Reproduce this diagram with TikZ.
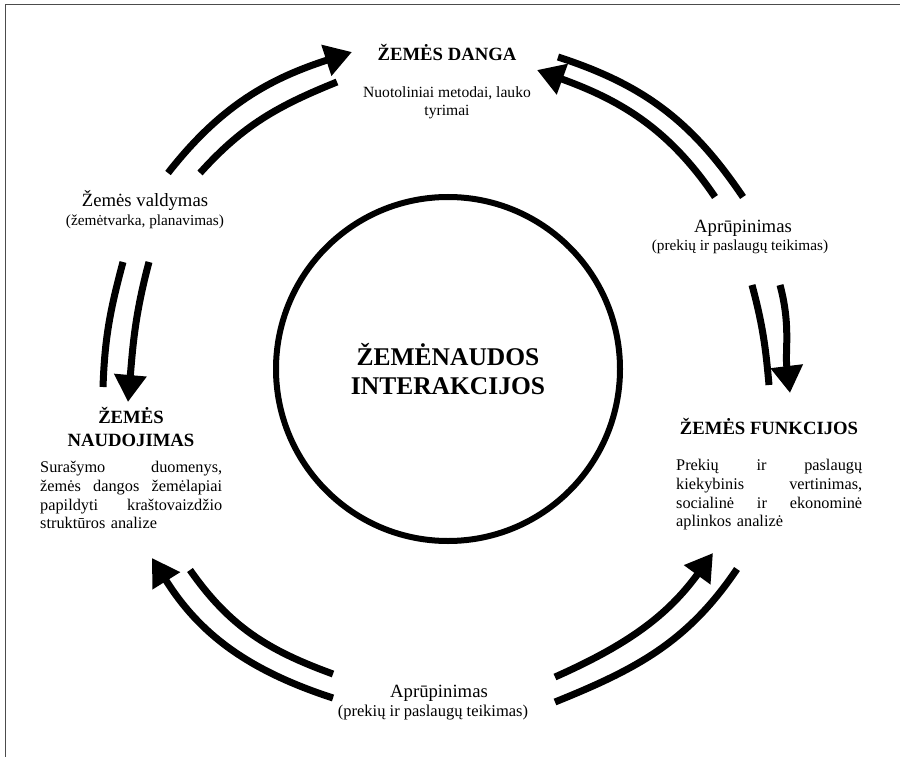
\documentclass[tikz,border=0pt]{standalone}
\usepackage{fontspec}
\setmainfont{Liberation Serif}
\usetikzlibrary{arrows.meta}
\begin{document}
\begin{tikzpicture}[x=1pt,y=1pt,
  frame/.style={draw=black!70, line width=1.6pt},
  ring/.style={circle, draw, line width=6pt, inner sep=0pt},
  flow/.style={line width=7pt},
  flowhead/.style={flow, -{Triangle[length=27pt,width=31pt]}},
  head/.style={font=\fontsize{18.7}{23}\selectfont\bfseries, inner sep=0pt, anchor=base},
  lbl/.style={font=\fontsize{18.7}{22}\selectfont, inner sep=0pt, anchor=base},
  sub/.style={font=\fontsize{15.3}{18}\selectfont, inner sep=0pt, anchor=base},
  body/.style={font=\fontsize{15.6}{17.5}\selectfont, inner sep=0pt, align=center},
  para/.style={font=\fontsize{16.3}{18.8}\selectfont, inner sep=0pt, align=left, anchor=north west},
  title/.style={font=\fontsize{25.5}{29}\selectfont\bfseries, align=center}
]
\useasboundingbox (0,0) rectangle (900,-757);
\fill[white] (0,0) rectangle (900,-757);

% page frame (top and left rules)
\coordinate (fTL) at (5.5,-4.5);
\coordinate (fTR) at (900,-4.5);
\coordinate (fBL) at (5.5,-757);
\draw[frame] (fTR) -- (fTL) -- (fBL);

% central ring
\node[ring, minimum size=344pt, title] (core) at (448,-369) {ŽEMĖNAUDOS\\INTERAKCIJOS};

% four stations around the ring
\node[head] (danga) at (447,-61) {ŽEMĖS DANGA};
\node[body] (dangatxt) at (447,-103) {Nuotoliniai metodai, lauko\\tyrimai};

\node[lbl] (valdymas) at (145,-207) {Žemės valdymas};
\node[sub] (valdymassub) at (145,-225) {(žemėtvarka, planavimas)};

\node[lbl] (aprR) at (743,-233) {Aprūpinimas};
\node[sub] (aprRsub) at (740,-250) {(prekių ir paslaugų teikimas)};

\node[head, align=center, anchor=center] (naud) at (131,-427) {ŽEMĖS\\NAUDOJIMAS};
\node[para, text width=182pt] (naudtxt) at (40,-461)
  {Surašymo\hfill duomenys,\\
   žemės\hfill dangos\hfill žemėlapiai\\
   papildyti\hfill kraštovaizdžio\\
   struktūros analize};

\node[head] (funk) at (769,-434) {ŽEMĖS FUNKCIJOS};
\node[para, text width=186pt] (funktxt) at (676,-459)
  {Prekių\hfill ir\hfill paslaugų\\
   kiekybinis\hfill vertinimas,\\
   socialinė\hfill ir\hfill ekonominė\\
   aplinkos analizė};

\node[lbl] (aprB) at (439,-697) {Aprūpinimas};
\node[sub, font=\fontsize{16.5}{19}\selectfont] (aprBsub) at (433,-716) {(prekių ir paslaugų teikimas)};

% curved double arrows
\coordinate (tlA0) at (168,-173); \coordinate (tlA1) at (352,-52);
\coordinate (tlB0) at (200,-173); \coordinate (tlB1) at (337,-82);
\draw[flowhead] (tlA0) to[out=52,in=198] (tlA1);
\draw[flow] (tlB0) to[out=48,in=202] (tlB1);

\coordinate (trA0) at (743,-197); \coordinate (trA1) at (558,-57);
\coordinate (trB0) at (715,-197); \coordinate (trB1) at (537,-70);
\draw[flow] (trA0) to[out=124,in=-18] (trA1);
\draw[flowhead] (trB0) to[out=124,in=-20] (trB1);

\coordinate (rA0) at (752,-285); \coordinate (rA1) at (769,-385);
\coordinate (rB0) at (780,-285); \coordinate (rB1) at (790,-393);
\draw[flow] (rA0) to[out=-75,in=95] (rA1);
\draw[flowhead] (rB0) to[out=-75,in=97] (rB1);

\coordinate (lA0) at (123,-262); \coordinate (lA1) at (103,-387);
\coordinate (lB0) at (149,-262); \coordinate (lB1) at (128,-402);
\draw[flow] (lA0) to[out=-105,in=88] (lA1);
\draw[flowhead] (lB0) to[out=-105,in=85] (lB1);

\coordinate (blA0) at (333,-698); \coordinate (blA1) at (152,-558);
\coordinate (blB0) at (333,-674); \coordinate (blB1) at (190,-570);
\draw[flowhead] (blA0) to[out=162,in=-58] (blA1);
\draw[flow] (blB0) to[out=160,in=-55] (blB1);

\coordinate (brA0) at (555,-677); \coordinate (brA1) at (713,-553);
\coordinate (brB0) at (555,-702); \coordinate (brB1) at (737,-569);
\draw[flowhead] (brA0) to[out=24,in=-126] (brA1);
\draw[flow] (brB0) to[out=22,in=-124] (brB1);
\end{tikzpicture}
\end{document}
